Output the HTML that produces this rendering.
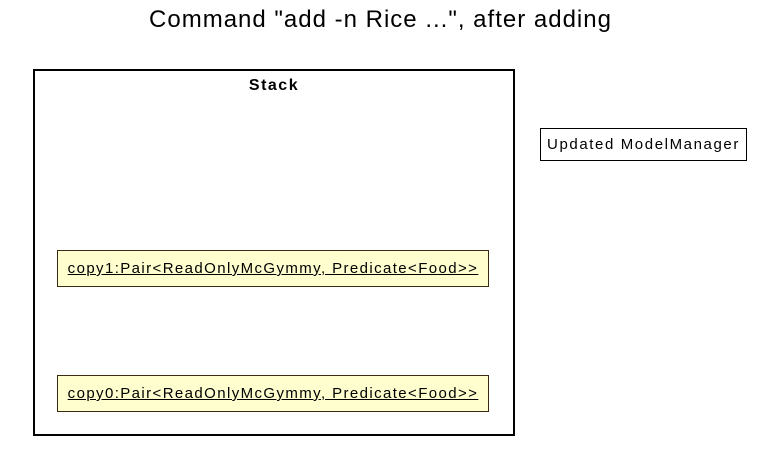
<!DOCTYPE html>
<html><head><style>
body{margin:0;width:761px;height:450px;background:#fff;position:relative;font-family:"Liberation Sans",Arial,sans-serif;overflow:hidden}
.a{position:absolute;box-sizing:border-box;white-space:nowrap}
.title{left:0;width:761px;top:6px;text-align:center;font-size:24px;letter-spacing:1px;color:#000}
.stack{left:33px;top:69px;width:482px;height:367px;border:2px solid #000}
.st{left:33px;width:482px;top:77px;text-align:center;font-weight:bold;font-size:16px;letter-spacing:1.5px}
.obj{left:57px;width:432px;height:37px;background:#FEFECE;border:1px solid #3a2a10;font-size:15px;letter-spacing:1.4px;text-align:center;line-height:35px}
.obj span{text-decoration:underline}
.note{left:540px;top:128px;width:207px;height:33px;border:1px solid #000;font-size:15px;letter-spacing:1.6px;text-align:center;line-height:31px}
</style></head><body>
<div class="a title">Command "add -n Rice ...", after adding</div>
<div class="a stack"></div>
<div class="a st">Stack</div>
<div class="a obj" style="top:250px"><span>copy1:Pair&lt;ReadOnlyMcGymmy, Predicate&lt;Food&gt;&gt;</span></div>
<div class="a obj" style="top:375px"><span>copy0:Pair&lt;ReadOnlyMcGymmy, Predicate&lt;Food&gt;&gt;</span></div>
<div class="a note">Updated ModelManager</div>
</body></html>
